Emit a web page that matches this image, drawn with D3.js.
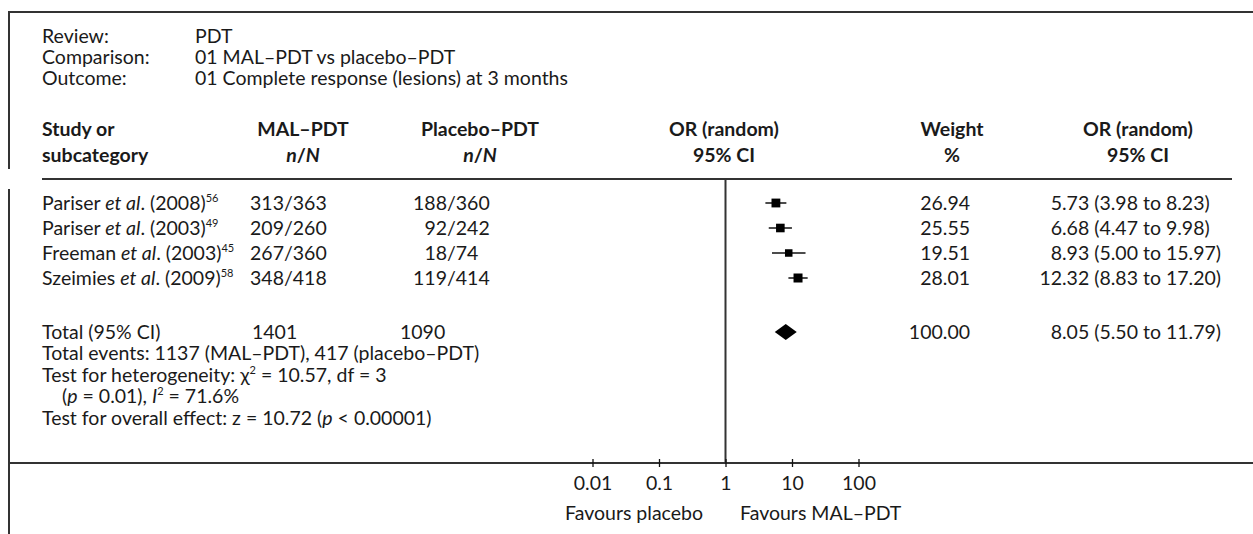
<!DOCTYPE html>
<html>
<head>
<meta charset="utf-8">
<script src="https://cdn.jsdelivr.net/npm/d3@7"></script>
<style>
  body { margin: 0; background: #fff; }
  svg text { font-family: Lato, "Open Sans", sans-serif; font-size: 19.5px; fill: #1a1a1a; }
</style>
</head>
<body>
<svg id="chart" width="1253" height="534"></svg>
<script>
// ---- data ----
const studyAuthors = ["Pariser", "Pariser", "Freeman", "Szeimies"];
const studyYears   = ["2008", "2003", "2003", "2009"];
const studyRefs    = ["56", "49", "45", "58"];
const malEvents    = [313, 209, 267, 348];
const malTotals    = [363, 260, 360, 418];
const plcEvents    = [188, 92, 18, 119];
const plcTotals    = [360, 242, 74, 414];
const weights      = [26.94, 25.55, 19.51, 28.01];
const oddsRatios   = [5.73, 6.68, 8.93, 12.32];
const ciLower      = [3.98, 4.47, 5.00, 8.83];
const ciUpper      = [8.23, 9.98, 15.97, 17.20];

const pooledOR     = 8.05;
const pooledLower  = 5.50;
const pooledUpper  = 11.79;
const pooledWeight = 100.00;
const totalMal     = 1401;
const totalPlc     = 1090;
const eventsMal    = 1137;
const eventsPlc    = 417;

const axisTicks    = [0.01, 0.1, 1, 10, 100];
const axisLabels   = ["0.01", "0.1", "1", "10", "100"];

// ---- layout ----
const ink = "#333";
const svg = d3.select("#chart");
const x = d3.scaleLog().domain([0.01, 100]).range([592.5, 858.5]);

const rowY = d3.scaleLinear().domain([0, 1]).range([203, 228]);   // study rows
const totalY = 332;
const axisY = 463;

// rich text helper: parts = [{t, i, b, sup}]
function rich(x0, y0, parts, anchor) {
  const t = svg.append("text").attr("x", x0).attr("y", y0).attr("dy", "0.35em")
    .attr("text-anchor", anchor || "start");
  let raised = false;
  parts.forEach(p => {
    const s = t.append("tspan").text(p.t);
    if (p.i) s.attr("font-style", "italic");
    if (p.b) s.attr("font-weight", 700);
    if (p.sup) { s.attr("font-size", 11).attr("dy", -8); raised = true; }
    else if (raised) { s.attr("dy", 8); raised = false; }
  });
  return t;
}
function fmt2(v) { return v.toFixed(2); }

// ---- frame ----
svg.append("line").attr("x1", 9).attr("x2", 1253).attr("y1", 12).attr("y2", 12)
  .attr("stroke", ink).attr("stroke-width", 2);
svg.append("line").attr("x1", 9).attr("x2", 9).attr("y1", 11).attr("y2", 169)
  .attr("stroke", ink).attr("stroke-width", 2);
svg.append("line").attr("x1", 9).attr("x2", 9).attr("y1", 189).attr("y2", 534)
  .attr("stroke", ink).attr("stroke-width", 2);

// ---- review info ----
const infoLabels = ["Review:", "Comparison:", "Outcome:"];
const infoValues = ["PDT", "01 MAL–PDT vs placebo–PDT", "01 Complete response (lesions) at 3 months"];
infoLabels.forEach((l, k) => {
  rich(42, 36 + k * 21, [{ t: l }]);
  rich(195, 36 + k * 21, [{ t: infoValues[k] }]);
});

// ---- column headers ----
const h1 = 129, h2 = 155;
rich(42, h1, [{ t: "Study or", b: true }]);
rich(42, h2, [{ t: "subcategory", b: true }]);
rich(303, h1, [{ t: "MAL–PDT", b: true }], "middle");
rich(303, h2, [{ t: "n", b: true, i: true }, { t: "/", b: true }, { t: "N", b: true, i: true }], "middle");
rich(480, h1, [{ t: "Placebo–PDT", b: true }], "middle");
rich(480, h2, [{ t: "n", b: true, i: true }, { t: "/", b: true }, { t: "N", b: true, i: true }], "middle");
rich(724, h1, [{ t: "OR (random)", b: true }], "middle");
rich(724, h2, [{ t: "95% CI", b: true }], "middle");
rich(952, h1, [{ t: "Weight", b: true }], "middle");
rich(952, h2, [{ t: "%", b: true }], "middle");
rich(1138, h1, [{ t: "OR (random)", b: true }], "middle");
rich(1138, h2, [{ t: "95% CI", b: true }], "middle");

svg.append("line").attr("x1", 42).attr("x2", 1232).attr("y1", 179).attr("y2", 179)
  .attr("stroke", ink).attr("stroke-width", 2);

// ---- line of no effect ----
svg.append("line").attr("x1", x(1)).attr("x2", x(1)).attr("y1", 179).attr("y2", axisY)
  .attr("stroke", ink).attr("stroke-width", 2);

// ---- study rows ----
const malSlash = 284, plcSlash = 447, decX = 1062;
studyAuthors.forEach((a, k) => {
  const y = rowY(k);
  rich(42, y, [{ t: a + " " }, { t: "et al", i: true }, { t: ". (" + studyYears[k] + ")" }, { t: studyRefs[k], sup: true }]);
  rich(malSlash, y, [{ t: String(malEvents[k]) }], "end");
  rich(malSlash, y, [{ t: "/" + malTotals[k] }]);
  rich(plcSlash, y, [{ t: String(plcEvents[k]) }], "end");
  rich(plcSlash, y, [{ t: "/" + plcTotals[k] }]);
  rich(970, y, [{ t: fmt2(weights[k]) }], "end");
  const est = fmt2(oddsRatios[k]).split(".");
  rich(decX, y, [{ t: est[0] }], "end");
  rich(decX, y, [{ t: "." + est[1] + " (" + fmt2(ciLower[k]) + " to " + fmt2(ciUpper[k]) + ")" }]);

  // confidence interval and weighted square
  svg.append("line").attr("x1", x(ciLower[k])).attr("x2", x(ciUpper[k]))
    .attr("y1", y).attr("y2", y).attr("stroke", "#111").attr("stroke-width", 1.5);
  const s = Math.sqrt(weights[k]) * 1.7;
  svg.append("rect").attr("x", x(oddsRatios[k]) - s / 2).attr("y", y - s / 2)
    .attr("width", s).attr("height", s).attr("fill", "#000");
});

// ---- pooled row ----
rich(42, totalY, [{ t: "Total (95% CI)" }]);
rich(252, totalY, [{ t: String(totalMal) }]);
rich(400, totalY, [{ t: String(totalPlc) }]);
rich(970, totalY, [{ t: fmt2(pooledWeight) }], "end");
const pe = fmt2(pooledOR).split(".");
rich(decX, totalY, [{ t: pe[0] }], "end");
rich(decX, totalY, [{ t: "." + pe[1] + " (" + fmt2(pooledLower) + " to " + fmt2(pooledUpper) + ")" }]);
svg.append("path")
  .attr("d", `M${x(pooledLower)},${totalY} L${x(pooledOR)},${totalY - 8} L${x(pooledUpper)},${totalY} L${x(pooledOR)},${totalY + 8} Z`)
  .attr("fill", "#000");

// ---- summary statistics ----
const ls = 21.5;
rich(42, totalY + ls, [{ t: `Total events: ${eventsMal} (MAL–PDT), ${eventsPlc} (placebo–PDT)` }]);
rich(42, totalY + 2 * ls, [{ t: "Test for heterogeneity: χ" }, { t: "2", sup: true }, { t: " = 10.57, df = 3" }]);
rich(62, totalY + 3 * ls, [{ t: "(" }, { t: "p", i: true }, { t: " = 0.01), " }, { t: "I", i: true }, { t: "2", sup: true }, { t: " = 71.6%" }]);
rich(42, totalY + 4 * ls, [{ t: "Test for overall effect: z = 10.72 (" }, { t: "p", i: true }, { t: " < 0.00001)" }]);

// ---- axis ----
svg.append("line").attr("x1", 9).attr("x2", 1253).attr("y1", axisY).attr("y2", axisY)
  .attr("stroke", ink).attr("stroke-width", 2);
const axis = d3.axisBottom(x).tickValues(axisTicks)
  .tickFormat((d, k) => axisLabels[k]).tickSize(4).tickPadding(12);
const ag = svg.append("g").attr("transform", `translate(0,${axisY})`).call(axis);
ag.select(".domain").remove();
ag.selectAll(".tick line").attr("y1", -4).attr("y2", 4).attr("stroke", "#111").attr("stroke-width", 1.3);
ag.selectAll(".tick text").attr("y", 20).attr("dy", "0.35em");
ag.attr("font-size", null).attr("font-family", null);

rich(703, 513, [{ t: "Favours placebo" }], "end");
rich(740, 513, [{ t: "Favours MAL–PDT" }]);
</script>
</body>
</html>
